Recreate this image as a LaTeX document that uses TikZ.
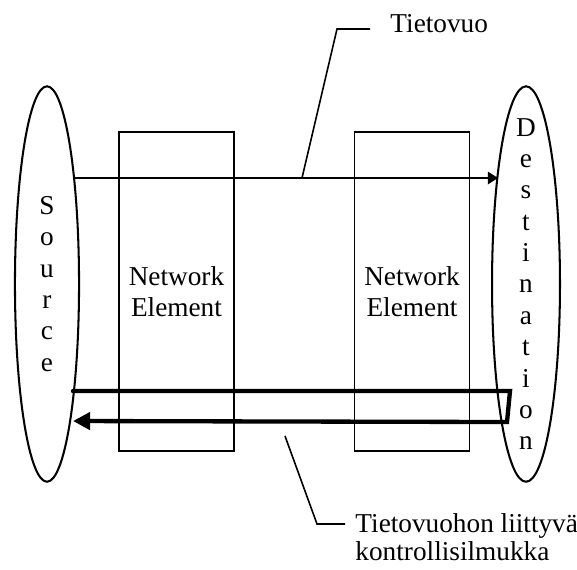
\documentclass[tikz,border=0pt]{standalone}
\usepackage{fontspec}
\setmainfont{Liberation Serif}
\usetikzlibrary{arrows.meta,shapes.geometric}

\begin{document}
\begin{tikzpicture}[
    x=0.44pt, y=-0.44pt,
    font=\fontsize{12}{13.8}\selectfont,
    endpt/.style={draw, ellipse, line width=0.9pt, minimum height=174pt, inner sep=0pt},
    letters/.style={align=center, inner sep=0pt},
    elem/.style={draw, line width=0.7pt, minimum width=50.6pt, minimum height=140.4pt, inner sep=0pt, align=center},
    flowarr/.style={-{Triangle[length=4.5pt, width=5.5pt]}, line width=0.8pt},
    ctrlarr/.style={-{Triangle[length=7.5pt, width=7.5pt]}, line width=1.9pt, line join=miter, line cap=round},
    lead/.style={line width=0.7pt},
    lbl/.style={anchor=west, inner ysep=0pt, align=left, font=\fontsize{12}{12.6}\selectfont}
]
\useasboundingbox (0,0) rectangle (577,569);

\node[endpt, minimum width=28.2pt, label={[letters]center:S\\o\\u\\r\\c\\e}] (src) at (47,284) {};
\node[endpt, minimum width=29.9pt, label={[letters]center:D\\e\\s\\t\\i\\n\\a\\t\\i\\o\\n}] (dst) at (526,284) {};
\node[elem] (ne1) at (176.5,291.5) {Network\\Element};
\node[elem] (ne2) at (412,291.5) {Network\\Element};

% data flow
\coordinate (fs) at (74,178);
\coordinate (fe) at (498,178);
\draw[flowarr] (fs) -- (fe);

% control loop
\coordinate (cs) at (73,391);
\coordinate (cr1) at (510,391);
\coordinate (cr2) at (507,422);
\coordinate (ce) at (73,421);
\draw[ctrlarr] (cs) -- (cr1) -- (cr2) -- (ce);

% labels
\node[lbl, inner xsep=8.8pt] (tflab) at (370,24) {Tietovuo};
\coordinate (tfa) at (302,178);
\coordinate (tfb) at (337,29);
\draw[lead] (tfa) -- (tfb) -- (tfb -| tflab.west);

\node[lbl, inner xsep=4.4pt] (ctllab) at (345,537) {Tietovuohon liittyvä\\kontrollisilmukka};
\coordinate (ctla) at (285,436);
\coordinate (ctlb) at (317,524);
\draw[lead] (ctla) -- (ctlb) -- (ctlb -| ctllab.west);
\end{tikzpicture}
\end{document}
